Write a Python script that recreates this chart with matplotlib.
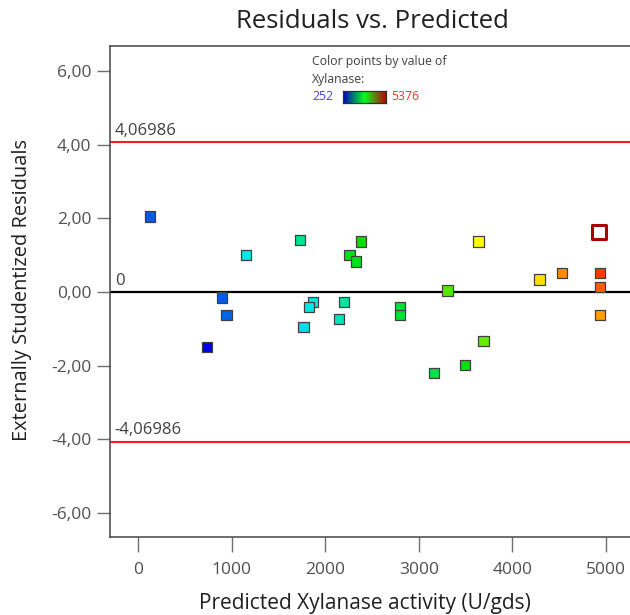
import matplotlib
matplotlib.use("Agg")
import matplotlib.pyplot as plt
import numpy as np
from matplotlib.colors import LinearSegmentedColormap, Normalize

plt.rcParams['font.family'] = ['Open Sans', 'DejaVu Sans']

# ---- data ----
predicted = [128, 1151, 894, 944, 737, 1731, 2379, 2258, 2329, 1866, 1824, 1766,
             2197, 2144, 2799, 2799, 3305, 3636, 3689, 3494, 3162, 4288, 4527,
             4932, 4932, 4932]
residuals = [2.05, 1.00, -0.15, -0.62, -1.49, 1.41, 1.37, 1.01, 0.83, -0.27, -0.41,
             -0.95, -0.27, -0.74, -0.42, -0.62, 0.04, 1.37, -1.34, -1.99, -2.20,
             0.34, 0.51, 0.51, 0.13, -0.62]
actual = [764, 1533, 764, 816, 252, 2020, 2814, 2660, 2660, 1584, 1559, 1482,
          1943, 1789, 2507, 2507, 3224, 4095, 3326, 2712, 2404, 4250, 4659,
          5069, 4915, 4556]
# highlighted (selected) point
sel_predicted = [4922]
sel_residual = [1.62]

limit = 4.06986
vmin, vmax = 252, 5376
xticks = [0, 1000, 2000, 3000, 4000, 5000]
yticks = [-6, -4, -2, 0, 2, 4, 6]

W, H = 630, 615
fig = plt.figure(figsize=(W / 100, H / 100), dpi=100)

left, right, top, bottom = 110, 643.5, 46, 537.3
ax = fig.add_axes([left / W, 1 - bottom / H, (right - left) / W, (bottom - top) / H])
ax.set_xlim(-300, 5400)
ax.set_ylim(-6.67, 6.69)

cmap = LinearSegmentedColormap.from_list(
    'rainbow5', ['#0000e6', '#00e8e8', '#00e000', '#ffff00', '#ff0000'])
norm = Normalize(vmin, vmax)

ax.axhline(0, color='black', lw=1.6, zorder=2)
ax.axhline(limit, color='#ff1a1a', lw=1.5, zorder=2)
ax.axhline(-limit, color='#ff1a1a', lw=1.5, zorder=2)

ax.scatter(predicted, residuals, c=actual, cmap=cmap, norm=norm, marker='s', s=56,
           edgecolors='#404040', linewidths=0.9, zorder=4)
ax.scatter(sel_predicted, sel_residual, marker='s', s=90, facecolors='white',
           edgecolors='#a80000', linewidths=2.2, zorder=5)

txt_color = '#404040'
ax.annotate('4,06986', xy=(-255, limit), xytext=(0, 2.5), textcoords='offset points',
            ha='left', va='bottom', fontsize=12, color=txt_color)
ax.annotate('0', xy=(-245, 0), xytext=(0, 2.5), textcoords='offset points',
            ha='left', va='bottom', fontsize=12, color=txt_color)
ax.annotate('-4,06986', xy=(-255, -limit), xytext=(0, 2.5), textcoords='offset points',
            ha='left', va='bottom', fontsize=12, color=txt_color)

ax.set_xticks(xticks)
ax.set_xticklabels([str(t) for t in xticks])
ax.set_yticks(yticks)
ax.set_yticklabels([f"{t:.2f}".replace('.', ',') for t in yticks])

ax.tick_params(axis='x', direction='out', length=11, width=1, color='#707070',
               labelsize=12.5, labelcolor='#505050', pad=7)
ax.tick_params(axis='y', direction='out', length=9.4, width=1, color='#707070',
               labelsize=12.5, labelcolor='#505050', pad=4)
for sp in ax.spines.values():
    sp.set_color('#454545')
    sp.set_linewidth(1.1)

fig.text(372 / W, 1 - 22 / H, 'Residuals vs. Predicted', ha='center', va='center',
         fontsize=18.5, color='#202020')
fig.text(365 / W, 1 - 603 / H, 'Predicted Xylanase activity (U/gds)', ha='center',
         va='center', fontsize=15, color='#202020')
fig.text(22 / W, 1 - 290 / H, 'Externally Studentized Residuals', ha='center',
         va='center', rotation=90, fontsize=14.4, color='#202020')

# color legend
fig.text(312 / W, 1 - 61 / H, 'Color points by value of', ha='left', va='center',
         fontsize=8.8, color='#404040')
fig.text(312 / W, 1 - 79 / H, 'Xylanase:', ha='left', va='center',
         fontsize=8.8, color='#404040')
fig.text(312 / W, 1 - 97 / H, str(vmin), ha='left', va='center', fontsize=8.8,
         color='#4040ff')
fig.text(391 / W, 1 - 97 / H, str(vmax), ha='left', va='center', fontsize=8.8,
         color='#ff3030')
cax = fig.add_axes([343 / W, 1 - 103 / H, 43 / W, 12 / H])
legend_cmap = LinearSegmentedColormap.from_list('leg', ['#0000c0', '#00ff20', '#c00000'])
cax.imshow(np.linspace(0, 1, 256)[None, :], aspect='auto', cmap=legend_cmap,
           extent=[0, 1, 0, 1])
cax.set_xticks([])
cax.set_yticks([])
for sp in cax.spines.values():
    sp.set_color('#303030')
    sp.set_linewidth(0.9)

fig.savefig('out.png', dpi=100)
